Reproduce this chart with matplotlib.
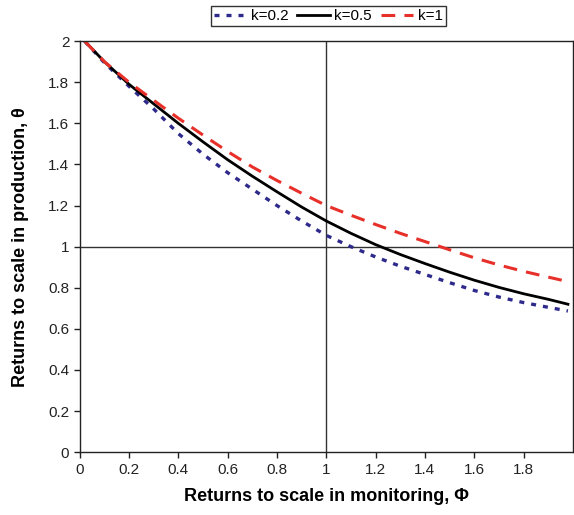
import matplotlib.pyplot as plt

plt.rcParams['font.family'] = ['Liberation Sans', 'DejaVu Sans']

# values
phi = [0.02, 0.1, 0.2, 0.3, 0.4, 0.5, 0.6, 0.7, 0.8, 0.9, 1.0,
       1.1, 1.2, 1.3, 1.4, 1.5, 1.6, 1.7, 1.8, 1.9, 1.98]
theta_k02 = [2.00, 1.895, 1.78, 1.67, 1.55, 1.45, 1.36, 1.28, 1.20, 1.125, 1.055,
             1.00, 0.95, 0.905, 0.865, 0.825, 0.787, 0.755, 0.728, 0.705, 0.687]
theta_k05 = [2.00, 1.90, 1.79, 1.695, 1.60, 1.51, 1.423, 1.343, 1.267, 1.193, 1.125,
             1.065, 1.01, 0.962, 0.918, 0.876, 0.837, 0.802, 0.771, 0.744, 0.72]
theta_k1 = [2.00, 1.90, 1.80, 1.712, 1.625, 1.543, 1.463, 1.388, 1.322, 1.26, 1.20,
            1.153, 1.108, 1.065, 1.025, 0.985, 0.946, 0.911, 0.88, 0.852, 0.83]

x_ticks = [0, 0.2, 0.4, 0.6, 0.8, 1, 1.2, 1.4, 1.6, 1.8]
y_ticks = [0, 0.2, 0.4, 0.6, 0.8, 1, 1.2, 1.4, 1.6, 1.8, 2]

fig = plt.figure(figsize=(5.74, 5.15), dpi=100)
ax = fig.add_axes([0.139, 0.122, 0.859, 0.798])

ax.axvline(1, color='#333333', lw=1, zorder=1)
ax.axhline(1, color='#333333', lw=1, zorder=1)

l1, = ax.plot(phi, theta_k02, color='#2e2a8c', lw=2.4, dashes=(1.5, 2.1),
              dash_capstyle='butt', label='k=0.2')
l2, = ax.plot(phi, theta_k05, color='black', lw=2, label='k=0.5')
l3, = ax.plot(phi, theta_k1, color='#e8302a', lw=2.2, dashes=(4.5, 3),
              dash_capstyle='butt', label='k=1')

ax.set_xlim(0, 2)
ax.set_ylim(0, 2)
ax.set_xticks(x_ticks)
ax.set_xticklabels(['%g' % t for t in x_ticks])
ax.set_yticks(y_ticks)
ax.set_yticklabels(['%g' % t for t in y_ticks])
ax.tick_params(direction='out', length=4, width=1, labelsize=11, colors='#222222')
for s in ax.spines.values():
    s.set_linewidth(1)
    s.set_color('#222222')

ax.set_xlabel('Returns to scale in monitoring, Φ', fontsize=13, fontweight='bold', labelpad=8)
ax.set_ylabel('Returns to scale in production, θ', fontsize=13, fontweight='bold', labelpad=14)

leg = fig.legend(handles=[l1, l2, l3], loc='upper center', bbox_to_anchor=(0.572, 1.0),
                 ncol=3, fontsize=11, frameon=True, fancybox=False, edgecolor='black',
                 handlelength=2.1, columnspacing=0.6, handletextpad=0.3, borderpad=0.2,
                 borderaxespad=0.4)
leg.get_frame().set_linewidth(1)

fig.savefig('out.png', dpi=100)
